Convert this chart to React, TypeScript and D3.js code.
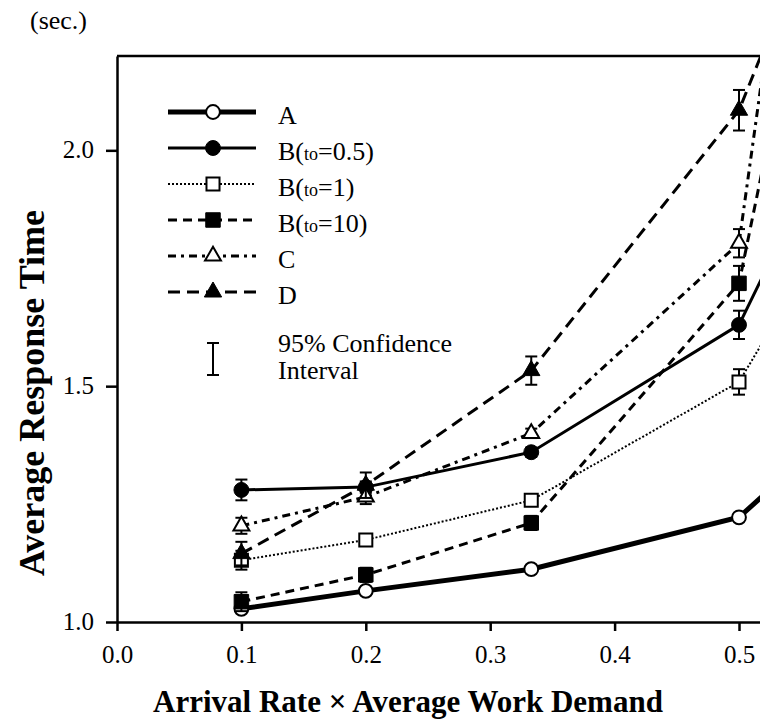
import React, { useEffect, useRef } from "react";
import * as d3 from "d3";

// x positions of the measurements (arrival rate x average work demand)
const X_VALUES = [0.1, 0.2, 0.333, 0.5, 0.6];

// average response time (sec.) per policy
const A_VALUES = [1.028, 1.066, 1.112, 1.222, 1.46];
const B05_VALUES = [1.28, 1.286, 1.36, 1.63, 2.17];
const B1_VALUES = [1.131, 1.174, 1.258, 1.509, 1.95];
const B10_VALUES = [1.043, 1.1, 1.21, 1.718, 3.0];
const C_VALUES = [1.204, 1.265, 1.4, 1.803, 3.7];
const D_VALUES = [1.145, 1.29, 1.533, 2.085, 2.74];

// half width of the 95% confidence interval
const A_ERR = [0, 0, 0, 0, 0];
const B05_ERR = [0.022, 0.012, 0.01, 0.03, 0.03];
const B1_ERR = [0.02, 0.01, 0.01, 0.027, 0.03];
const B10_ERR = [0.02, 0.015, 0.015, 0.037, 0.04];
const C_ERR = [0.017, 0.015, 0.01, 0.03, 0.04];
const D_ERR = [0.025, 0.027, 0.03, 0.043, 0.05];

const X_TICKS = [0, 0.1, 0.2, 0.3, 0.4, 0.5];
const Y_TICKS = [1.0, 1.5, 2.0];

const FONT = "'Liberation Serif', 'Times New Roman', serif";

export default function App() {
  const ref = useRef<SVGSVGElement>(null);

  useEffect(() => {
    if (!ref.current) return;
    const svg = d3.select(ref.current);
    svg.selectAll("*").remove();

    const left = 117,
      top = 56,
      bottom = 622,
      unitX = 1244; // px per 1.0 on the x axis

    const x = d3.scaleLinear().domain([0, 0.6]).range([left, left + 0.6 * unitX]);
    const y = d3.scaleLinear().domain([1.0, 2.2]).range([bottom, top]);

    // series definitions: styles go here, values come from the arrays above
    const series = [
      { values: A_VALUES, err: A_ERR, width: 5, dash: null, shape: d3.symbolCircle, size: 150, filled: false },
      { values: B05_VALUES, err: B05_ERR, width: 3, dash: null, shape: d3.symbolCircle, size: 175, filled: true },
      { values: B1_VALUES, err: B1_ERR, width: 2, dash: "2,2", shape: d3.symbolSquare, size: 170, filled: false },
      { values: B10_VALUES, err: B10_ERR, width: 3, dash: "9,6", shape: d3.symbolSquare, size: 210, filled: true },
      { values: C_VALUES, err: C_ERR, width: 3, dash: "8,5,3,5", shape: d3.symbolTriangle, size: 110, filled: false },
      { values: D_VALUES, err: D_ERR, width: 3, dash: "12,7", shape: d3.symbolTriangle, size: 130, filled: true },
    ];

    svg
      .append("defs")
      .append("clipPath")
      .attr("id", "plot-clip")
      .append("rect")
      .attr("x", left)
      .attr("y", top)
      .attr("width", 800)
      .attr("height", bottom - top);

    // axes
    const xAxis = svg
      .append("g")
      .attr("transform", "translate(0," + bottom + ")")
      .call(
        d3
          .axisBottom(x)
          .tickValues(X_TICKS)
          .tickSize(9)
          .tickSizeOuter(0)
          .tickPadding(14)
          .tickFormat(d3.format(".1f")),
      );
    const yAxis = svg
      .append("g")
      .attr("transform", "translate(" + left + ",0)")
      .call(
        d3
          .axisLeft(y)
          .tickValues(Y_TICKS)
          .tickSize(11)
          .tickSizeOuter(0)
          .tickPadding(12)
          .tickFormat(d3.format(".1f")),
      );
    [xAxis, yAxis].forEach((g) => {
      g.selectAll("path, line").attr("stroke", "#000").attr("stroke-width", 2.5);
      g.selectAll("text")
        .attr("fill", "#000")
        .style("font-family", FONT)
        .style("font-size", "25px");
    });
    yAxis.selectAll("text").attr("dy", "0.28em");

    // top border of the frame
    svg
      .append("line")
      .attr("x1", left)
      .attr("x2", 760)
      .attr("y1", top)
      .attr("y2", top)
      .attr("stroke", "#000")
      .attr("stroke-width", 2.5);

    const plot = svg.append("g");
    const lines = plot.append("g").attr("clip-path", "url(#plot-clip)");

    const line = d3
      .line<number>()
      .x((d, i) => x(X_VALUES[i]))
      .y((d) => y(d));

    series.forEach((s) => {
      lines
        .append("path")
        .datum(s.values)
        .attr("d", line)
        .attr("fill", "none")
        .attr("stroke", "#000")
        .attr("stroke-width", s.width)
        .attr("stroke-dasharray", s.dash);
    });

    // error bars and markers
    series.forEach((s) => {
      const g = plot.append("g");
      s.values.forEach((v, i) => {
        const e = s.err[i];
        if (e <= 0 || y(v) < top) return;
        const cx = x(X_VALUES[i]);
        g.append("line")
          .attr("x1", cx)
          .attr("x2", cx)
          .attr("y1", y(v - e))
          .attr("y2", y(v + e))
          .attr("stroke", "#000")
          .attr("stroke-width", 2);
        [v - e, v + e].forEach((c) => {
          g.append("line")
            .attr("x1", cx - 6)
            .attr("x2", cx + 6)
            .attr("y1", y(c))
            .attr("y2", y(c))
            .attr("stroke", "#000")
            .attr("stroke-width", 2);
        });
      });
      g.selectAll("path.marker")
        .data(s.values.filter((v) => y(v) >= top))
        .enter()
        .append("path")
        .attr("class", "marker")
        .attr("transform", (d, i) => "translate(" + x(X_VALUES[i]) + "," + y(d) + ")")
        .attr("d", d3.symbol().type(s.shape).size(s.size))
        .attr("fill", s.filled ? "#000" : "#fff")
        .attr("stroke", "#000")
        .attr("stroke-width", s.filled ? 1 : 2);
    });

    // legend
    const legend = svg.append("g");
    const labels = [
      ["A"],
      ["B(", "to", "=0.5)"],
      ["B(", "to", "=1)"],
      ["B(", "to", "=10)"],
      ["C"],
      ["D"],
    ];
    series.forEach((s, i) => {
      const ly = 112 + 36 * i;
      legend
        .append("line")
        .attr("x1", 168)
        .attr("x2", 256)
        .attr("y1", ly)
        .attr("y2", ly)
        .attr("stroke", "#000")
        .attr("stroke-width", s.width)
        .attr("stroke-dasharray", s.dash);
      legend
        .append("path")
        .attr("transform", "translate(213," + ly + ")")
        .attr("d", d3.symbol().type(s.shape).size(s.size))
        .attr("fill", s.filled ? "#000" : "#fff")
        .attr("stroke", "#000")
        .attr("stroke-width", s.filled ? 1 : 2);
      const t = legend
        .append("text")
        .attr("x", 278)
        .attr("y", ly + 12)
        .style("font-family", FONT)
        .style("font-size", "26px");
      labels[i].forEach((part, j) => {
        t.append("tspan")
          .text(part)
          .style("font-size", j === 1 ? "18px" : "26px");
      });
    });

    // confidence interval key
    legend
      .append("line")
      .attr("x1", 213)
      .attr("x2", 213)
      .attr("y1", 343)
      .attr("y2", 375)
      .attr("stroke", "#000")
      .attr("stroke-width", 2);
    [343, 375].forEach((cy) => {
      legend
        .append("line")
        .attr("x1", 207)
        .attr("x2", 219)
        .attr("y1", cy)
        .attr("y2", cy)
        .attr("stroke", "#000")
        .attr("stroke-width", 2);
    });
    legend
      .append("text")
      .attr("x", 278)
      .attr("y", 352)
      .style("font-family", FONT)
      .style("font-size", "26px")
      .text("95% Confidence");
    legend
      .append("text")
      .attr("x", 278)
      .attr("y", 379)
      .style("font-family", FONT)
      .style("font-size", "26px")
      .text("Interval");

    // titles
    svg
      .append("text")
      .attr("x", 30)
      .attr("y", 29)
      .style("font-family", FONT)
      .style("font-size", "26px")
      .text("(sec.)");
    svg
      .append("text")
      .attr("transform", "translate(44,393) rotate(-90)")
      .attr("text-anchor", "middle")
      .style("font-family", FONT)
      .style("font-size", "36px")
      .style("font-weight", "bold")
      .text("Average Response Time");
    svg
      .append("text")
      .attr("x", 408)
      .attr("y", 712)
      .attr("text-anchor", "middle")
      .style("font-family", FONT)
      .style("font-size", "31px")
      .style("font-weight", "bold")
      .text("Arrival Rate \u00d7 Average Work Demand");
  }, []);

  return (
    <svg
      ref={ref}
      width={760}
      height={724}
      style={{ position: "absolute", left: 0, top: 0, background: "#fff" }}
    />
  );
}
